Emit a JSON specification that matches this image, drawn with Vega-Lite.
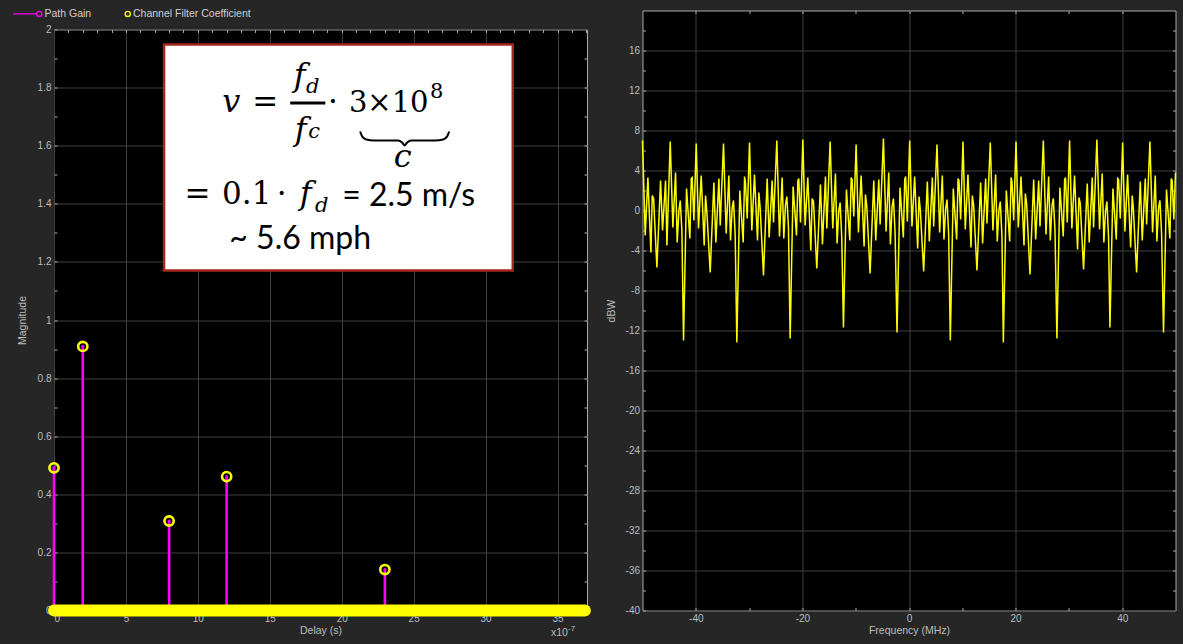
{
  "$schema": "https://vega.github.io/schema/vega-lite/v6.json",
  "background": "#262626",
  "padding": {"left": 16, "top": 8.5, "right": 20, "bottom": 20},
  "spacing": 13.5,
  "config": {
    "axis": {"domain": false, "labelFont": "Liberation Sans", "labelFontSize": 10, "labelColor": "#bdbdbd", "titleFont": "Liberation Sans", "titleFontSize": 10.5, "titleFontWeight": "normal", "titleColor": "#bdbdbd", "tickColor": "#a8a8a8", "tickSize": -3, "tickWidth": 1, "gridColor": "#404040", "labelPadding": 6},
    "legend": {"labelFont": "Liberation Sans"}
  },
  "datasets": {
    "legend": [{"s": "Path Gain"}, {"s": "Channel Filter Coefficient"}],
    "stems": [{"d": 0, "g": 0.491}, {"d": 2, "g": 0.909}, {"d": 8, "g": 0.308}, {"d": 12, "g": 0.461}, {"d": 23, "g": 0.141}],
    "band": [{"d": 0, "d2": 36.9, "g": 0}],
    "box": [{"x1": 7.65, "x2": 31.89, "y1": 1.948, "y2": 1.17}],
    "bar": [{"x1": 16.42, "x2": 18.86, "y": 1.747}],
    "brace": [{"i": 0, "x": 21.28, "y": 1.649}, {"i": 1, "x": 21.42, "y": 1.632}, {"i": 2, "x": 21.7, "y": 1.621}, {"i": 3, "x": 22.26, "y": 1.618}, {"i": 4, "x": 23.92, "y": 1.618}, {"i": 5, "x": 24.2, "y": 1.611}, {"i": 6, "x": 24.38, "y": 1.601}, {"i": 7, "x": 24.55, "y": 1.611}, {"i": 8, "x": 24.83, "y": 1.618}, {"i": 9, "x": 26.49, "y": 1.618}, {"i": 10, "x": 27.05, "y": 1.621}, {"i": 11, "x": 27.33, "y": 1.632}, {"i": 12, "x": 27.47, "y": 1.649}],
    "mathItalic": [{"t": "v", "x": 12.33, "y": 1.7143}, {"t": "f", "x": 17.08, "y": 1.8072}, {"t": "f", "x": 17.15, "y": 1.6213}, {"t": "f", "x": 17.5, "y": 1.3976}, {"t": "c", "x": 24.24, "y": 1.525}],
    "mathSub": [{"t": "d", "x": 17.99, "y": 1.7797}, {"t": "c", "x": 18.09, "y": 1.6248}, {"t": "d", "x": 18.61, "y": 1.3701}],
    "mathUp": [{"t": "=", "x": 14.69, "y": 1.7143}, {"t": "·", "x": 19.38, "y": 1.7143}, {"t": "=", "x": 9.97, "y": 1.401}, {"t": "0.1", "x": 13.4, "y": 1.401}, {"t": "·", "x": 15.83, "y": 1.401}],
    "mathLeft": [{"t": "3×10", "x": 20.5, "y": 1.7143}],
    "mathSup": [{"t": "8", "x": 26.6, "y": 1.7625}],
    "sans": [{"t": "= 2.5 m/s", "x": 20.03, "y": 1.3941}, {"t": "~ 5.6 mph", "x": 12.19, "y": 1.2461}],
    "exp": [{"t": "x10", "x": 34.55, "y": -0.079}],
    "expSup": [{"t": "-7", "x": 35.73, "y": -0.062}],
    "spec": [
      {"f": -50, "p": 7.0}, {"f": -49.49, "p": -2.5}, {"f": -48.99, "p": 3.3}, {"f": -48.42, "p": -4.2}, {"f": -48.17, "p": 1.5}, {"f": -47.92, "p": 1.2}, {"f": -47.3, "p": -5.7}, {"f": -46.61, "p": 3.0}, {"f": -46.24, "p": -2.0}, {"f": -45.67, "p": 3.0}, {"f": -45.42, "p": -3.5}, {"f": -44.8, "p": 6.9}, {"f": -44.3, "p": -1.7}, {"f": -43.8, "p": 3.8}, {"f": -43.49, "p": -3.2}, {"f": -43.17, "p": 0.0}, {"f": -42.92, "p": 1.0}, {"f": -42.61, "p": -2.0}, {"f": -42.3, "p": -13.0},
      {"f": -41.74, "p": 2.2}, {"f": -41.11, "p": -2.8}, {"f": -40.85, "p": 3.2}, {"f": -40.68, "p": 3.3}, {"f": -40.36, "p": -1.0}, {"f": -39.92, "p": 6.7}, {"f": -39.49, "p": -1.8}, {"f": -38.99, "p": 3.5}, {"f": -38.42, "p": -3.5}, {"f": -38.17, "p": 1.5}, {"f": -37.92, "p": -0.2}, {"f": -37.3, "p": -6.2}, {"f": -36.61, "p": 2.8}, {"f": -36.24, "p": -3.2}, {"f": -35.67, "p": 3.2}, {"f": -35.42, "p": -1.5}, {"f": -34.8, "p": 6.7}, {"f": -34.3, "p": -2.3}, {"f": -33.8, "p": 3.5}, {"f": -33.49, "p": -3.0}, {"f": -33.17, "p": 0.3}, {"f": -32.92, "p": 1.0}, {"f": -32.61, "p": -2.5}, {"f": -32.3, "p": -13.2},
      {"f": -31.74, "p": 2.0}, {"f": -31.11, "p": -3.2}, {"f": -30.85, "p": 3.4}, {"f": -30.68, "p": 2.8}, {"f": -30.36, "p": -0.8}, {"f": -29.92, "p": 6.8}, {"f": -29.49, "p": -2.0}, {"f": -28.99, "p": 3.6}, {"f": -28.42, "p": -3.0}, {"f": -28.17, "p": 1.8}, {"f": -27.92, "p": 0.2}, {"f": -27.3, "p": -6.5}, {"f": -26.61, "p": 3.2}, {"f": -26.24, "p": -2.7}, {"f": -25.67, "p": 3.0}, {"f": -25.42, "p": -1.2}, {"f": -24.8, "p": 7.0}, {"f": -24.3, "p": -2.6}, {"f": -23.8, "p": 3.3}, {"f": -23.49, "p": -2.8}, {"f": -23.17, "p": 0.6}, {"f": -22.92, "p": 1.4}, {"f": -22.61, "p": -1.8}, {"f": -22.3, "p": -12.8},
      {"f": -21.74, "p": 2.4}, {"f": -21.11, "p": -2.5}, {"f": -20.85, "p": 3.0}, {"f": -20.68, "p": 3.2}, {"f": -20.36, "p": -1.2}, {"f": -19.92, "p": 7.1}, {"f": -19.49, "p": -1.5}, {"f": -18.99, "p": 3.3}, {"f": -18.42, "p": -4.0}, {"f": -18.17, "p": 1.2}, {"f": -17.92, "p": 0.9}, {"f": -17.3, "p": -5.8}, {"f": -16.61, "p": 2.6}, {"f": -16.24, "p": -3.4}, {"f": -15.67, "p": 3.4}, {"f": -15.42, "p": -1.8}, {"f": -14.8, "p": 6.9}, {"f": -14.3, "p": -1.8}, {"f": -13.8, "p": 3.7}, {"f": -13.49, "p": -3.3}, {"f": -13.17, "p": 0.0}, {"f": -12.92, "p": 0.8}, {"f": -12.61, "p": -2.8}, {"f": -12.3, "p": -11.7},
      {"f": -11.74, "p": 2.1}, {"f": -11.11, "p": -3.0}, {"f": -10.85, "p": 3.3}, {"f": -10.68, "p": 3.1}, {"f": -10.36, "p": -0.6}, {"f": -9.92, "p": 6.6}, {"f": -9.49, "p": -2.2}, {"f": -8.99, "p": 3.5}, {"f": -8.42, "p": -3.6}, {"f": -8.17, "p": 1.6}, {"f": -7.92, "p": 0.4}, {"f": -7.3, "p": -6.3}, {"f": -6.61, "p": 3.0}, {"f": -6.24, "p": -3.0}, {"f": -5.67, "p": 3.1}, {"f": -5.42, "p": -1.4}, {"f": -4.8, "p": 7.2}, {"f": -4.3, "p": -2.1}, {"f": -3.8, "p": 3.8}, {"f": -3.49, "p": -3.4}, {"f": -3.17, "p": 0.4}, {"f": -2.92, "p": 1.2}, {"f": -2.61, "p": -2.2}, {"f": -2.25, "p": -12.2},
      {"f": -1.69, "p": 2.3}, {"f": -1.06, "p": -2.7}, {"f": -0.8, "p": 3.1}, {"f": -0.63, "p": 3.4}, {"f": -0.31, "p": -1.1}, {"f": 0.13, "p": 7.0}, {"f": 0.56, "p": -1.6}, {"f": 1.06, "p": 3.4}, {"f": 1.63, "p": -3.8}, {"f": 1.88, "p": 1.4}, {"f": 2.13, "p": 0.0}, {"f": 2.75, "p": -6.1}, {"f": 3.44, "p": 2.9}, {"f": 3.81, "p": -3.1}, {"f": 4.38, "p": 3.3}, {"f": 4.63, "p": -1.6}, {"f": 5.25, "p": 6.6}, {"f": 5.75, "p": -2.2}, {"f": 6.25, "p": 3.5}, {"f": 6.56, "p": -2.9}, {"f": 6.88, "p": 0.2}, {"f": 7.13, "p": 1.1}, {"f": 7.44, "p": -2.4}, {"f": 7.75, "p": -13.0},
      {"f": 8.31, "p": 2.2}, {"f": 8.94, "p": -2.9}, {"f": 9.2, "p": 3.2}, {"f": 9.37, "p": 3.0}, {"f": 9.69, "p": -0.9}, {"f": 10.13, "p": 6.9}, {"f": 10.56, "p": -1.9}, {"f": 11.06, "p": 3.6}, {"f": 11.63, "p": -3.7}, {"f": 11.88, "p": 1.5}, {"f": 12.13, "p": 0.5}, {"f": 12.75, "p": -6.0}, {"f": 13.44, "p": 2.8}, {"f": 13.81, "p": -3.3}, {"f": 14.38, "p": 3.2}, {"f": 14.63, "p": -1.3}, {"f": 15.25, "p": 6.8}, {"f": 15.75, "p": -2.0}, {"f": 16.25, "p": 3.6}, {"f": 16.56, "p": -3.1}, {"f": 16.88, "p": 0.1}, {"f": 17.13, "p": 0.9}, {"f": 17.44, "p": -2.6}, {"f": 17.7, "p": -13.2},
      {"f": 18.26, "p": 2.0}, {"f": 18.89, "p": -3.1}, {"f": 19.15, "p": 3.3}, {"f": 19.32, "p": 2.9}, {"f": 19.64, "p": -1.0}, {"f": 20.08, "p": 6.9}, {"f": 20.51, "p": -1.7}, {"f": 21.01, "p": 3.4}, {"f": 21.58, "p": -3.5}, {"f": 21.83, "p": 1.7}, {"f": 22.08, "p": 0.6}, {"f": 22.7, "p": -6.4}, {"f": 23.39, "p": 3.1}, {"f": 23.76, "p": -2.9}, {"f": 24.33, "p": 3.0}, {"f": 24.58, "p": -1.6}, {"f": 25.2, "p": 7.0}, {"f": 25.7, "p": -2.4}, {"f": 26.2, "p": 3.4}, {"f": 26.51, "p": -3.0}, {"f": 26.83, "p": 0.5}, {"f": 27.08, "p": 1.2}, {"f": 27.39, "p": -2.0}, {"f": 27.75, "p": -12.8},
      {"f": 28.31, "p": 2.3}, {"f": 28.94, "p": -2.6}, {"f": 29.2, "p": 3.1}, {"f": 29.37, "p": 3.3}, {"f": 29.69, "p": -1.2}, {"f": 30.13, "p": 7.0}, {"f": 30.56, "p": -1.8}, {"f": 31.06, "p": 3.5}, {"f": 31.63, "p": -3.9}, {"f": 31.88, "p": 1.3}, {"f": 32.13, "p": 0.7}, {"f": 32.75, "p": -5.9}, {"f": 33.44, "p": 2.7}, {"f": 33.81, "p": -3.2}, {"f": 34.38, "p": 3.3}, {"f": 34.63, "p": -1.7}, {"f": 35.25, "p": 7.1}, {"f": 35.75, "p": -1.9}, {"f": 36.25, "p": 3.7}, {"f": 36.56, "p": -3.2}, {"f": 36.88, "p": 0.0}, {"f": 37.13, "p": 0.9}, {"f": 37.44, "p": -2.7}, {"f": 37.7, "p": -11.7},
      {"f": 38.26, "p": 2.2}, {"f": 38.89, "p": -2.9}, {"f": 39.15, "p": 3.2}, {"f": 39.32, "p": 3.1}, {"f": 39.64, "p": -0.8}, {"f": 40.08, "p": 6.8}, {"f": 40.51, "p": -2.1}, {"f": 41.01, "p": 3.6}, {"f": 41.58, "p": -3.7}, {"f": 41.88, "p": 1.5}, {"f": 42.08, "p": 0.3}, {"f": 42.7, "p": -6.2}, {"f": 43.39, "p": 2.9}, {"f": 43.76, "p": -3.0}, {"f": 44.33, "p": 3.2}, {"f": 44.58, "p": -1.4}, {"f": 45.2, "p": 6.9}, {"f": 45.7, "p": -2.2}, {"f": 46.2, "p": 3.5}, {"f": 46.51, "p": -3.1}, {"f": 46.83, "p": 0.3}, {"f": 47.08, "p": 1.0}, {"f": 47.39, "p": -2.3}, {"f": 47.75, "p": -12.2},
      {"f": 48.31, "p": 2.1}, {"f": 48.94, "p": -2.8}, {"f": 49.2, "p": 3.2}, {"f": 49.37, "p": 3.0}, {"f": 49.69, "p": -0.9}, {"f": 50, "p": 3.8}
    ]
  },
  "hconcat": [
    {
      "vconcat": [
        {
          "width": 533,
          "height": 13,
          "view": {"stroke": null, "fill": null},
          "data": {"name": "legend"},
          "mark": {"type": "point", "filled": false, "opacity": 0},
          "encoding": {
            "color": {"field": "s", "type": "nominal", "scale": {"domain": ["Path Gain", "Channel Filter Coefficient"], "range": ["#ff00ff", "#ffff00"]},
              "legend": {"orient": "none", "legendX": -20, "legendY": -2, "direction": "horizontal", "title": null, "symbolSize": 64, "symbolStrokeWidth": 1.3, "symbolOpacity": 1, "labelColor": "#d0d0d0", "labelFontSize": 10.5, "labelOffset": 0, "columnPadding": 30.5, "padding": 0}},
            "shape": {"field": "s", "type": "nominal", "scale": {"domain": ["Path Gain", "Channel Filter Coefficient"], "range": ["M-6.5,0L-0.65,0M0.65,0A0.65,0.65,0,1,1,-0.65,0A0.65,0.65,0,1,1,0.65,0", "M0.65,0A0.65,0.65,0,1,1,-0.65,0A0.65,0.65,0,1,1,0.65,0"]},
              "legend": {"orient": "none", "legendX": -20, "legendY": -2, "direction": "horizontal", "title": null, "symbolSize": 64, "symbolStrokeWidth": 1.3, "symbolOpacity": 1, "labelColor": "#d0d0d0", "labelFontSize": 10.5, "labelOffset": 0, "columnPadding": 30.5, "padding": 0}}
          }
        },
        {
          "width": 533,
          "height": 581,
          "view": {"fill": "#000000", "stroke": "#a8a8a8", "strokeWidth": 1},
          "resolve": {"axis": {"x": "independent", "y": "independent"}},
          "layer": [
            {
              "data": {"name": "stems"},
              "mark": {"type": "rule", "color": "#ff00ff", "strokeWidth": 2.6},
              "encoding": {
                "x": {"field": "d", "type": "quantitative", "scale": {"domain": [0, 37.05], "nice": false, "zero": false},
                  "axis": {"orient": "bottom", "values": [0,1,2,3,4,5,6,7,8,9,10,11,12,13,14,15,16,17,18,19,20,21,22,23,24,25,26,27,28,29,30,31,32,33,34,35,36], "labelExpr": "datum.value % 5 === 0 ? '' + datum.value : ''", "grid": true, "gridOpacity": {"condition": {"test": "datum.value % 5 !== 0", "value": 0}, "value": 1}, "title": "Delay (s)", "titlePadding": 2}},
                "y": {"field": "g", "type": "quantitative", "scale": {"domain": [0, 2], "nice": false},
                  "axis": {"orient": "left", "values": [0,0.1,0.2,0.3,0.4,0.5,0.6,0.7,0.8,0.9,1,1.1,1.2,1.3,1.4,1.5,1.6,1.7,1.8,1.9,2], "labelExpr": "round(datum.value*10) % 2 === 0 ? '' + datum.value : ''", "grid": true, "gridOpacity": {"condition": {"test": "round(datum.value*10) % 2 !== 0", "value": 0}, "value": 1}, "title": "Magnitude", "titlePadding": 10}},
                "y2": {"datum": 0}
              }
            },
            {
              "data": {"name": "stems"},
              "mark": {"type": "point", "opacity": 0},
              "encoding": {
                "x": {"field": "d", "type": "quantitative", "axis": {"orient": "top", "values": [1,2,3,4,5,6,7,8,9,10,11,12,13,14,15,16,17,18,19,20,21,22,23,24,25,26,27,28,29,30,31,32,33,34,35,36,37], "labels": false, "grid": false, "title": null}},
                "y": {"field": "g", "type": "quantitative", "axis": {"orient": "right", "values": [0.1,0.2,0.3,0.4,0.5,0.6,0.7,0.8,0.9,1,1.1,1.2,1.3,1.4,1.5,1.6,1.7,1.8,1.9], "labels": false, "grid": false, "title": null}}
              }
            },
            {
              "data": {"name": "stems"},
              "mark": {"type": "point", "filled": true, "color": "#ff00ff", "size": 10, "opacity": 1},
              "encoding": {"x": {"field": "d", "type": "quantitative", "axis": null}, "y": {"field": "g", "type": "quantitative", "axis": null}}
            },
            {
              "data": {"name": "band"},
              "mark": {"type": "rule", "color": "#ffff00", "strokeWidth": 12, "strokeCap": "round"},
              "encoding": {"x": {"field": "d", "type": "quantitative", "axis": null}, "x2": {"field": "d2"}, "y": {"field": "g", "type": "quantitative", "axis": null}}
            },
            {
              "data": {"name": "stems"},
              "mark": {"type": "point", "filled": false, "color": "#ffff00", "strokeWidth": 2.6, "size": 85, "opacity": 1},
              "encoding": {"x": {"field": "d", "type": "quantitative", "axis": null}, "y": {"field": "g", "type": "quantitative", "axis": null}}
            },
            {
              "data": {"name": "box"},
              "mark": {"type": "rect", "fill": "#ffffff", "stroke": "#a3261c", "strokeWidth": 2.5},
              "encoding": {"x": {"field": "x1", "type": "quantitative", "axis": null}, "x2": {"field": "x2"}, "y": {"field": "y1", "type": "quantitative", "axis": null}, "y2": {"field": "y2"}}
            },
            {
              "data": {"name": "bar"},
              "mark": {"type": "rule", "color": "#000000", "strokeWidth": 3},
              "encoding": {"x": {"field": "x1", "type": "quantitative", "axis": null}, "x2": {"field": "x2"}, "y": {"field": "y", "type": "quantitative", "axis": null}}
            },
            {
              "data": {"name": "brace"},
              "mark": {"type": "line", "color": "#000000", "strokeWidth": 2, "interpolate": "monotone"},
              "encoding": {"x": {"field": "x", "type": "quantitative", "axis": null}, "y": {"field": "y", "type": "quantitative", "axis": null}, "order": {"field": "i"}}
            },
            {
              "data": {"name": "mathItalic"},
              "mark": {"type": "text", "font": "DejaVu Serif", "fontStyle": "italic", "fontSize": 32, "align": "center", "baseline": "alphabetic", "color": "#000000"},
              "encoding": {"x": {"field": "x", "type": "quantitative", "axis": null}, "y": {"field": "y", "type": "quantitative", "axis": null}, "text": {"field": "t"}}
            },
            {
              "data": {"name": "mathSub"},
              "mark": {"type": "text", "font": "DejaVu Serif", "fontStyle": "italic", "fontSize": 21, "align": "center", "baseline": "alphabetic", "color": "#000000"},
              "encoding": {"x": {"field": "x", "type": "quantitative", "axis": null}, "y": {"field": "y", "type": "quantitative", "axis": null}, "text": {"field": "t"}}
            },
            {
              "data": {"name": "mathUp"},
              "mark": {"type": "text", "font": "DejaVu Serif", "fontSize": 31, "align": "center", "baseline": "alphabetic", "color": "#000000"},
              "encoding": {"x": {"field": "x", "type": "quantitative", "axis": null}, "y": {"field": "y", "type": "quantitative", "axis": null}, "text": {"field": "t"}}
            },
            {
              "data": {"name": "mathLeft"},
              "mark": {"type": "text", "font": "DejaVu Serif", "fontSize": 29, "align": "left", "baseline": "alphabetic", "color": "#000000"},
              "encoding": {"x": {"field": "x", "type": "quantitative", "axis": null}, "y": {"field": "y", "type": "quantitative", "axis": null}, "text": {"field": "t"}}
            },
            {
              "data": {"name": "mathSup"},
              "mark": {"type": "text", "font": "DejaVu Serif", "fontSize": 21, "align": "center", "baseline": "alphabetic", "color": "#000000"},
              "encoding": {"x": {"field": "x", "type": "quantitative", "axis": null}, "y": {"field": "y", "type": "quantitative", "axis": null}, "text": {"field": "t"}}
            },
            {
              "data": {"name": "sans"},
              "mark": {"type": "text", "font": "Lato", "fontSize": 32, "align": "left", "baseline": "alphabetic", "color": "#000000"},
              "encoding": {"x": {"field": "x", "type": "quantitative", "axis": null}, "y": {"field": "y", "type": "quantitative", "axis": null}, "text": {"field": "t"}}
            },
            {
              "data": {"name": "exp"},
              "mark": {"type": "text", "font": "Liberation Sans", "fontSize": 10.5, "align": "left", "baseline": "middle", "color": "#bdbdbd"},
              "encoding": {"x": {"field": "x", "type": "quantitative", "axis": null}, "y": {"field": "y", "type": "quantitative", "axis": null}, "text": {"field": "t"}}
            },
            {
              "data": {"name": "expSup"},
              "mark": {"type": "text", "font": "Liberation Sans", "fontSize": 8, "align": "left", "baseline": "middle", "color": "#bdbdbd"},
              "encoding": {"x": {"field": "x", "type": "quantitative", "axis": null}, "y": {"field": "y", "type": "quantitative", "axis": null}, "text": {"field": "t"}}
            }
          ]
        }
      ],
      "spacing": 0
    },
    {
      "width": 533,
      "height": 600,
      "view": {"fill": "#000000", "stroke": "#a8a8a8", "strokeWidth": 1},
      "data": {"name": "spec"},
      "resolve": {"axis": {"x": "independent", "y": "independent"}},
      "layer": [
        {
          "mark": {"type": "line", "color": "#ffff00", "strokeWidth": 1.5},
          "encoding": {
            "x": {"field": "f", "type": "quantitative", "scale": {"domain": [-50, 50], "nice": false, "zero": false},
              "axis": {"orient": "bottom", "values": [-40,-30,-20,-10,0,10,20,30,40], "labelExpr": "datum.value % 20 === 0 ? '' + datum.value : ''", "grid": true, "gridOpacity": {"condition": {"test": "datum.value % 20 !== 0", "value": 0}, "value": 1}, "title": "Frequency (MHz)", "titlePadding": 2}},
            "y": {"field": "p", "type": "quantitative", "scale": {"domain": [-40, 20], "nice": false, "zero": false},
              "axis": {"orient": "left", "values": [-40,-38,-36,-34,-32,-30,-28,-26,-24,-22,-20,-18,-16,-14,-12,-10,-8,-6,-4,-2,0,2,4,6,8,10,12,14,16,18], "labelExpr": "datum.value % 4 === 0 ? '' + datum.value : ''", "grid": true, "gridOpacity": {"condition": {"test": "datum.value % 4 !== 0", "value": 0}, "value": 1}, "title": "dBW", "titlePadding": 8.5}}
          }
        },
        {
          "mark": {"type": "point", "opacity": 0},
          "encoding": {
            "x": {"field": "f", "type": "quantitative", "axis": {"orient": "top", "values": [-40,-30,-20,-10,0,10,20,30,40], "labels": false, "grid": false, "title": null}},
            "y": {"field": "p", "type": "quantitative", "axis": {"orient": "right", "values": [-38,-36,-34,-32,-30,-28,-26,-24,-22,-20,-18,-16,-14,-12,-10,-8,-6,-4,-2,0,2,4,6,8,10,12,14,16,18], "labels": false, "grid": false, "title": null}}
          }
        }
      ]
    }
  ]
}
